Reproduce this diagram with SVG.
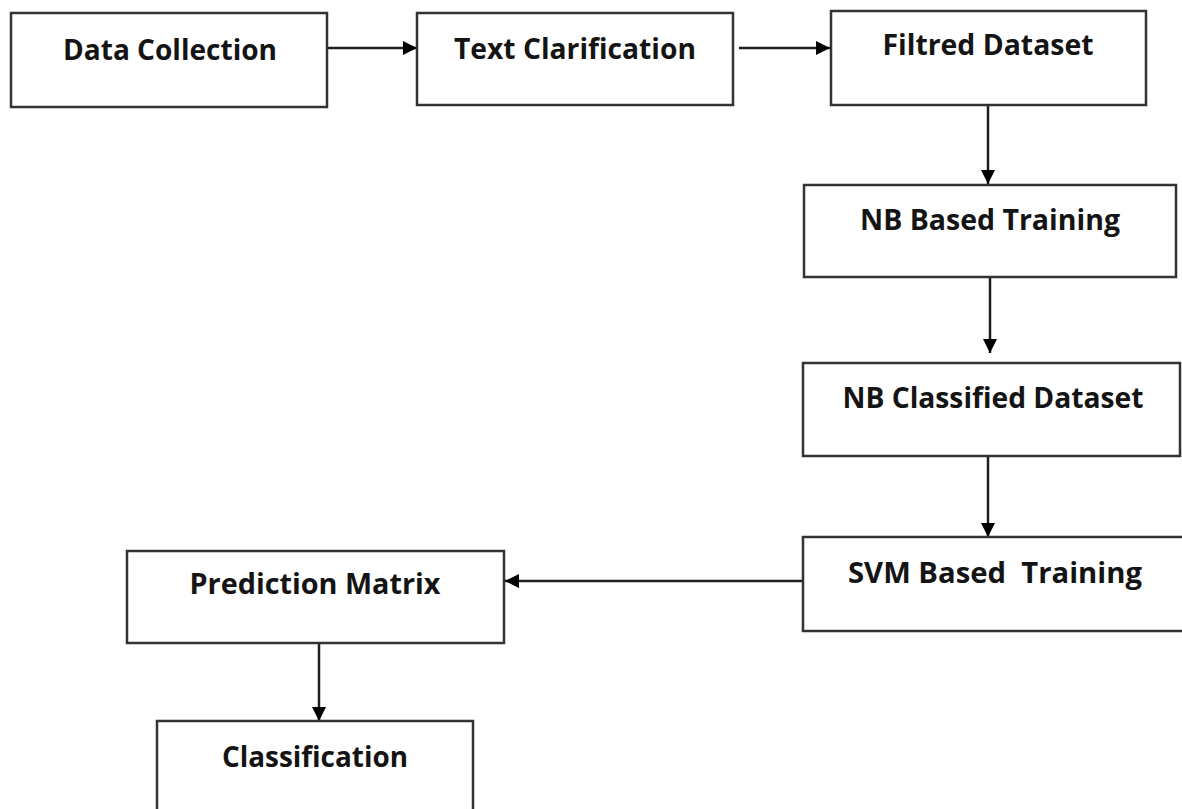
<svg xmlns="http://www.w3.org/2000/svg" width="1182" height="809" viewBox="0 0 1182 809">
  <style>
    .box { fill: #ffffff; stroke: #333333; stroke-width: 2.5; }
    .label { font-family: "Open Sans", "Liberation Sans", sans-serif; font-weight: bold; font-size: 28px; fill: #141414; text-anchor: middle; }
    .edge { stroke: #1e1e1e; stroke-width: 2.5; fill: none; marker-end: url(#arrow); }
  </style>
  <defs>
    <marker id="arrow" viewBox="0 0 14 14" refX="14" refY="7" markerWidth="14" markerHeight="14" markerUnits="userSpaceOnUse" orient="auto">
      <path d="M0,0 L14,7 L0,14 Z" fill="#000000"/>
    </marker>
  </defs>
  <rect width="1182" height="809" fill="#ffffff"/>

  <g id="connectors">
    <line class="edge" x1="328" y1="48" x2="417" y2="48"/>
    <line class="edge" x1="739" y1="48" x2="830" y2="48"/>
    <line class="edge" x1="988" y1="105" x2="988" y2="184"/>
    <line class="edge" x1="990" y1="277" x2="990" y2="353"/>
    <line class="edge" x1="988" y1="456" x2="988" y2="537"/>
    <line class="edge" x1="803" y1="581" x2="505" y2="581"/>
    <line class="edge" x1="319" y1="643" x2="319" y2="721"/>
  </g>

  <g id="data-collection">
    <rect class="box" x="11" y="13" width="316" height="94"/>
    <text class="label" x="170" y="60" textLength="214" lengthAdjust="spacingAndGlyphs">Data Collection</text>
  </g>
  <g id="text-clarification">
    <rect class="box" x="417" y="13" width="316" height="92"/>
    <text class="label" x="575" y="59" textLength="242" lengthAdjust="spacingAndGlyphs">Text Clarification</text>
  </g>
  <g id="filtred-dataset">
    <rect class="box" x="831" y="11" width="315" height="94"/>
    <text class="label" x="988" y="55" textLength="211" lengthAdjust="spacingAndGlyphs">Filtred Dataset</text>
  </g>
  <g id="nb-based-training">
    <rect class="box" x="804" y="185" width="372" height="92"/>
    <text class="label" x="990" y="230" textLength="260" lengthAdjust="spacingAndGlyphs">NB Based Training</text>
  </g>
  <g id="nb-classified-dataset">
    <rect class="box" x="803" y="363" width="377" height="93"/>
    <text class="label" x="993" y="408" textLength="301" lengthAdjust="spacingAndGlyphs">NB Classified Dataset</text>
  </g>
  <g id="svm-based-training">
    <rect class="box" x="803" y="537" width="400" height="94"/>
    <text class="label" x="995" y="583" textLength="294" lengthAdjust="spacingAndGlyphs" xml:space="preserve">SVM Based  Training</text>
  </g>
  <g id="prediction-matrix">
    <rect class="box" x="127" y="551" width="377" height="92"/>
    <text class="label" x="315" y="594" textLength="251" lengthAdjust="spacingAndGlyphs">Prediction Matrix</text>
  </g>
  <g id="classification">
    <rect class="box" x="157" y="721" width="316" height="100"/>
    <text class="label" x="315" y="767" textLength="186" lengthAdjust="spacingAndGlyphs">Classification</text>
  </g>
</svg>
